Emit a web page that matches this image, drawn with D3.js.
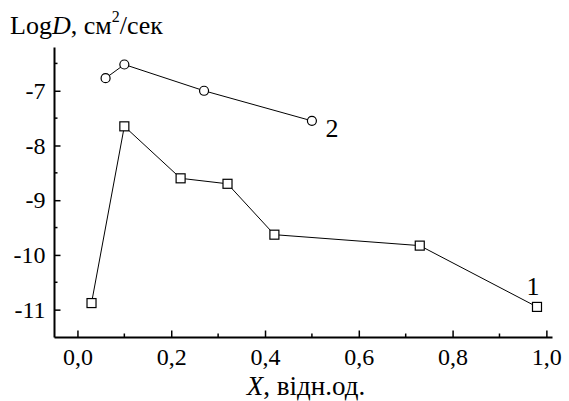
<!DOCTYPE html>
<html>
<head>
<meta charset="utf-8">
<script src="https://cdn.jsdelivr.net/npm/d3@7"></script>
<style>
  body { margin: 0; background: #fff; }
</style>
</head>
<body>
<svg id="chart" width="569" height="401"></svg>
<script>
// series 1: squares
const xs1 = [0.03, 0.10, 0.22, 0.32, 0.42, 0.73, 0.98];
const ys1 = [-10.88, -7.65, -8.6, -8.7, -9.63, -9.83, -10.95];
// series 2: circles
const xs2 = [0.06, 0.10, 0.27, 0.50];
const ys2 = [-6.77, -6.52, -7.0, -7.55];

const xTicks = [0, 0.2, 0.4, 0.6, 0.8, 1.0];
const xMinor = [0.1, 0.3, 0.5, 0.7, 0.9];
const yTicks = [-7, -8, -9, -10, -11];
const yMinor = [-6.5, -7.5, -8.5, -9.5, -10.5];

const serif = '"Liberation Serif", "Times New Roman", serif';

const svg = d3.select('#chart');
const margin = { left: 54, right: 17, top: 47, bottom: 64 };
const width = 569, height = 401;

const x = d3.scaleLinear()
  .domain([-0.05, 1.012])
  .range([margin.left, width - margin.right]);
const y = d3.scaleLinear()
  .domain([-11.5, -6.2])
  .range([height - margin.bottom, margin.top]);

const fmt = d => d3.format('.1f')(d).replace('.', ',');

// x axis, ticks pointing inward
const xAxisG = svg.append('g')
  .attr('transform', `translate(0,${y(-11.5)})`)
  .call(d3.axisBottom(x).tickValues(xTicks).tickSize(-6.5).tickPadding(11).tickFormat(fmt).tickSizeOuter(0));
xAxisG.append('g').selectAll('line')
  .data(xMinor)
  .join('line')
  .attr('x1', x).attr('x2', x)
  .attr('y1', 0).attr('y2', -3.5)
  .attr('stroke', '#000').attr('stroke-width', 1.5);

// y axis
const yAxisG = svg.append('g')
  .attr('transform', `translate(${x(-0.05)},0)`)
  .call(d3.axisLeft(y).tickValues(yTicks).tickSize(-6.5).tickPadding(8.5).tickFormat(d3.format('d')).tickSizeOuter(0));
yAxisG.append('g').selectAll('line')
  .data(yMinor)
  .join('line')
  .attr('y1', y).attr('y2', y)
  .attr('x1', 0).attr('x2', 3.5)
  .attr('stroke', '#000').attr('stroke-width', 1.5);

svg.selectAll('.domain').attr('stroke', '#000').attr('stroke-width', 2);
svg.selectAll('.tick line').attr('stroke', '#000').attr('stroke-width', 1.5);
xAxisG.attr('font-family', serif).attr('font-size', 24);
yAxisG.attr('font-family', serif).attr('font-size', 24);
svg.selectAll('.tick text').attr('fill', '#000');
yAxisG.selectAll('.tick text').text(d => '-' + Math.abs(d));

const line = d3.line().x(d => x(d[0])).y(d => y(d[1]));
const data1 = xs1.map((v, i) => [v, ys1[i]]);
const data2 = xs2.map((v, i) => [v, ys2[i]]);

svg.append('path').datum(data1).attr('d', line)
  .attr('fill', 'none').attr('stroke', '#000').attr('stroke-width', 1);
svg.append('path').datum(data2).attr('d', line)
  .attr('fill', 'none').attr('stroke', '#000').attr('stroke-width', 1);

svg.append('g').selectAll('rect')
  .data(data1)
  .join('rect')
  .attr('x', d => x(d[0]) - 4.5)
  .attr('y', d => y(d[1]) - 4.5)
  .attr('width', 9).attr('height', 9)
  .attr('fill', '#fff').attr('stroke', '#000').attr('stroke-width', 1.2);

svg.append('g').selectAll('circle')
  .data(data2)
  .join('circle')
  .attr('cx', d => x(d[0]))
  .attr('cy', d => y(d[1]))
  .attr('r', 4.5)
  .attr('fill', '#fff').attr('stroke', '#000').attr('stroke-width', 1.2);

// series labels
svg.append('text').attr('x', 533).attr('y', 295).attr('font-family', serif)
  .attr('text-anchor', 'middle').attr('font-size', 26).text('1');
svg.append('text').attr('x', 332).attr('y', 137).attr('font-family', serif)
  .attr('text-anchor', 'middle').attr('font-size', 26).text('2');

// y axis title
const yt = svg.append('text').attr('x', 10).attr('y', 34)
  .attr('font-family', serif).attr('font-size', 26);
yt.append('tspan').text('Log');
yt.append('tspan').attr('font-style', 'italic').text('D');
yt.append('tspan').text(', см');
yt.append('tspan').attr('font-size', 16).attr('dy', -12).text('2');
yt.append('tspan').attr('dy', 12).text('/сек');

// x axis title
const xt = svg.append('text').attr('x', 306).attr('y', 395)
  .attr('font-family', serif)
  .attr('text-anchor', 'middle').attr('font-size', 27);
xt.append('tspan').attr('font-style', 'italic').text('X');
xt.append('tspan').text(', відн.од.');
</script>
</body>
</html>
